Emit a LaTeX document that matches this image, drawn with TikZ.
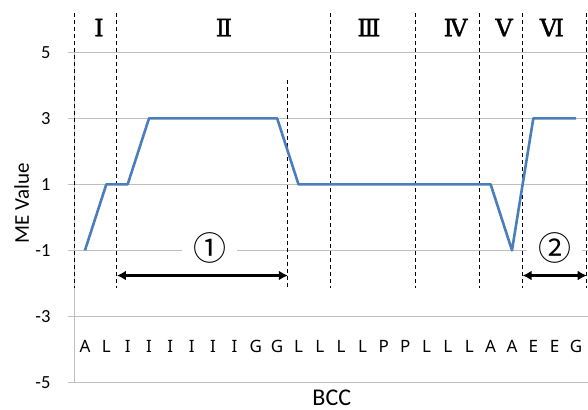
\documentclass[tikz,border=0pt]{standalone}
\usepackage{fontspec}
\setsansfont{Carlito}
\newfontfamily\residuefont{Noto Sans}
\newfontfamily\circfont{Noto Sans CJK SC}
\newfontfamily\romanfont[FakeBold=1.5]{DejaVu Serif}
\usetikzlibrary{arrows.meta}
\definecolor{melineblue}{RGB}{74,126,187}
\definecolor{gridgray}{RGB}{191,191,191}
\tikzset{
  gridline/.style={draw=gridgray, line width=1.1pt},
  divider/.style={draw=black, line width=1pt, dash pattern=on 4pt off 3pt},
  meline/.style={draw=melineblue, line width=2.6pt, line join=round},
  spanarrow/.style={draw=black, line width=2.8pt,
    {Latex[length=9pt,width=10pt]}-{Latex[length=9pt,width=10pt]}},
  residue/.style={font=\residuefont\fontsize{17}{17}\selectfont, anchor=base},
  ticklabel/.style={font=\sffamily\fontsize{18.5}{18.5}\selectfont, anchor=east},
  axistitle/.style={font=\sffamily\fontsize{21}{21}\selectfont},
  regionlabel/.style={font=\romanfont\fontsize{24}{24}\selectfont},
  segment/.style={font=\circfont\fontsize{33}{33}\selectfont,
    fill=white, minimum width=55pt, inner sep=0pt},
}

\begin{document}
\begin{tikzpicture}[x=21.35pt, y=33pt]
  \useasboundingbox (-3.48,-5.839) rectangle (24.061,6.585);
  \foreach \v in {-5,-3,...,5} {
    \draw[gridline] (-0.3,\v) -- (24.061,\v);
    \node[ticklabel] (tick\v) at (-0.95,\v) {\v};
  }
  \draw[gridline] (0,-5) -- (0,5);
  \node[segment] (seg1) at (6.35,-0.94) {①};
  \node[segment] (seg2) at (22.5,-0.94) {②};
  \foreach \b in {0,2,12,16,19,21,24}
    \draw[divider] (\b,6.19) -- (\b,-2.14);
  \draw[divider] (10,4.16) -- (10,-2.14);
  \foreach \v [count=\i] in {-1,1,1,3,3,3,3,3,3,3,1,1,1,1,1,1,1,1,1,1,-1,3,3,3}
    \coordinate (p\i) at (\i-0.5,\v);
  \draw[meline] (p1) \foreach \i in {2,...,24} { -- (p\i) };
  \foreach \r [count=\i] in {A,L,I,I,I,I,I,I,G,G,L,L,L,L,P,P,L,L,L,A,A,E,E,G}
    \node[residue] (res\i) at (\i-0.5,-4.09) {\r};
  \coordinate (s1a) at (2,-1.764);
  \coordinate (s1b) at (10,-1.764);
  \coordinate (s2a) at (21,-1.764);
  \coordinate (s2b) at (24,-1.764);
  \draw[spanarrow] (s1a) -- (s1b);
  \draw[spanarrow] (s2a) -- (s2b);
  \node[regionlabel] (regI) at (1.16,5.75) {Ⅰ};
  \node[regionlabel] (regII) at (7.01,5.75) {Ⅱ};
  \node[regionlabel] (regIII) at (13.8,5.75) {Ⅲ};
  \node[regionlabel] (regIV) at (17.86,5.75) {Ⅳ};
  \node[regionlabel] (regV) at (20.13,5.75) {Ⅴ};
  \node[regionlabel] (regVI) at (22.37,5.75) {Ⅵ};
  \node[axistitle, rotate=90] (ytitle) at (-2.46,0.42) {ME Value};
  \node[axistitle, font=\sffamily\fontsize{24}{24}\selectfont, anchor=base, inner sep=0pt] (xtitle) at (12.06,-5.69) {BCC};
\end{tikzpicture}
\end{document}
